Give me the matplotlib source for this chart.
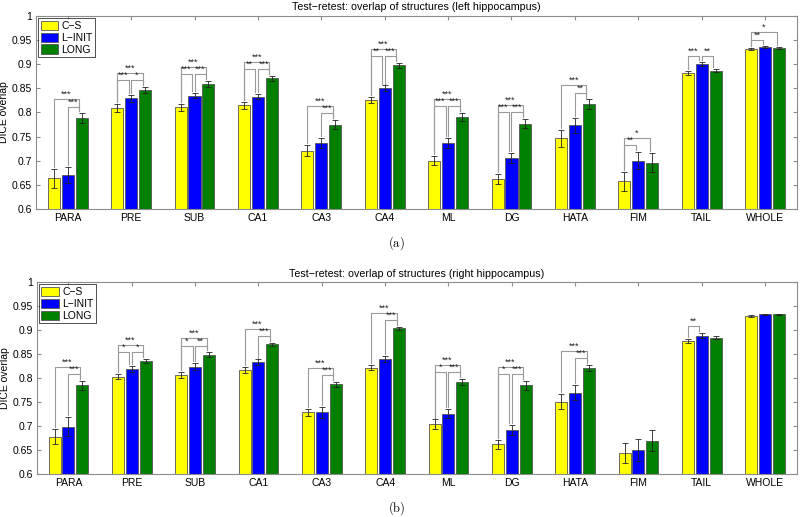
import numpy as np
import matplotlib
matplotlib.use("Agg")
import matplotlib.pyplot as plt
from matplotlib.ticker import FuncFormatter

plt.rcParams['font.family'] = ['Liberation Sans', 'DejaVu Sans']
plt.rcParams['mathtext.fontset'] = 'cm'

# Data
structures = ['PARA', 'PRE', 'SUB', 'CA1', 'CA3', 'CA4', 'ML', 'DG',
              'HATA', 'FIM', 'TAIL', 'WHOLE']
methods = ['C\u2212S', 'L\u2212INIT', 'LONG']

left_cs = [0.663, 0.809, 0.811, 0.815, 0.721, 0.826, 0.700, 0.662, 0.746, 0.657, 0.882, 0.931]
left_linit = [0.670, 0.829, 0.835, 0.833, 0.737, 0.850, 0.737, 0.706, 0.773, 0.700, 0.900, 0.935]
left_long = [0.788, 0.847, 0.859, 0.871, 0.775, 0.898, 0.791, 0.777, 0.817, 0.696, 0.887, 0.934]
left_cs_err = [0.019, 0.008, 0.007, 0.007, 0.011, 0.007, 0.010, 0.011, 0.017, 0.019, 0.004, 0.002]
left_linit_err = [0.017, 0.007, 0.006, 0.006, 0.010, 0.006, 0.010, 0.010, 0.015, 0.018, 0.004, 0.002]
left_long_err = [0.010, 0.006, 0.006, 0.005, 0.009, 0.005, 0.008, 0.010, 0.010, 0.019, 0.004, 0.002]

right_cs = [0.678, 0.803, 0.807, 0.817, 0.729, 0.822, 0.704, 0.662, 0.751, 0.644, 0.877, 0.929]
right_linit = [0.699, 0.819, 0.824, 0.833, 0.729, 0.840, 0.726, 0.692, 0.770, 0.651, 0.889, 0.933]
right_long = [0.785, 0.836, 0.849, 0.871, 0.787, 0.904, 0.792, 0.785, 0.822, 0.670, 0.884, 0.933]
right_cs_err = [0.016, 0.005, 0.006, 0.006, 0.007, 0.005, 0.010, 0.010, 0.016, 0.020, 0.004, 0.002]
right_linit_err = [0.020, 0.006, 0.007, 0.006, 0.011, 0.007, 0.010, 0.011, 0.015, 0.023, 0.005, 0.001]
right_long_err = [0.010, 0.005, 0.005, 0.003, 0.006, 0.003, 0.007, 0.009, 0.006, 0.021, 0.003, 0.001]

# significance brackets: (structure index, bar i, bar j, stars, level)
left_sig = [(0, 1, 2, '***', 0), (0, 0, 2, '***', 1),
            (1, 0, 1, '***', 0), (1, 1, 2, '*', 0), (1, 0, 2, '***', 1),
            (2, 0, 1, '***', 0), (2, 1, 2, '***', 0), (2, 0, 2, '***', 1),
            (3, 0, 1, '**', 0), (3, 1, 2, '***', 0), (3, 0, 2, '***', 1),
            (4, 1, 2, '***', 0), (4, 0, 2, '***', 1),
            (5, 0, 1, '**', 0), (5, 1, 2, '***', 0), (5, 0, 2, '***', 1),
            (6, 0, 1, '***', 0), (6, 1, 2, '***', 0), (6, 0, 2, '***', 1),
            (7, 0, 1, '***', 0), (7, 1, 2, '***', 0), (7, 0, 2, '***', 1),
            (8, 1, 2, '**', 0), (8, 0, 2, '***', 1),
            (9, 0, 1, '**', 0), (9, 0, 2, '*', 1),
            (10, 0, 1, '***', 0), (10, 1, 2, '**', 0),
            (11, 0, 1, '**', 0), (11, 0, 2, '*', 1)]
right_sig = [(0, 1, 2, '***', 0), (0, 0, 2, '***', 1),
             (1, 0, 1, '*', 0), (1, 1, 2, '*', 0), (1, 0, 2, '***', 1),
             (2, 0, 1, '*', 0), (2, 1, 2, '**', 0), (2, 0, 2, '***', 1),
             (3, 1, 2, '***', 0), (3, 0, 2, '***', 1),
             (4, 1, 2, '***', 0), (4, 0, 2, '***', 1),
             (5, 1, 2, '***', 0), (5, 0, 2, '***', 1),
             (6, 0, 1, '*', 0), (6, 1, 2, '***', 0), (6, 0, 2, '***', 1),
             (7, 0, 1, '*', 0), (7, 1, 2, '***', 0), (7, 0, 2, '***', 1),
             (8, 1, 2, '***', 0), (8, 0, 2, '***', 1),
             (10, 0, 1, '**', 0)]

colors = ['#ffff00', '#0000ff', '#007f00']
frame_gray = '#8c8c8c'


def panneau(ax, valeurs, erreurs, signif, titre):
    """Dessine un panneau de barres groupées avec barres d'erreur et étoiles."""
    x = np.arange(1, len(structures) + 1)
    decal = [-0.22, 0.0, 0.22]
    for k in range(3):
        ax.bar(x + decal[k], valeurs[k], width=0.19, bottom=0, color=colors[k],
               edgecolor='#555555', linewidth=0.6, label=methods[k], zorder=2)
        ax.errorbar(x + decal[k], valeurs[k], yerr=erreurs[k], fmt='none',
                    ecolor='#222222', elinewidth=0.6, capsize=2.5,
                    capthick=0.6, zorder=3)

    hauts = np.array(valeurs) + np.array(erreurs)
    for g, i, j, etoiles, niveau in signif:
        y = hauts[:, g].max() + 0.014 + 0.015 * niveau
        xg = x[g] + decal[i]
        xd = x[g] + decal[j] - 0.04
        ax.plot([xg, xg, xd, xd],
                [hauts[i, g] + 0.004, y, y, hauts[j, g] + 0.004],
                color='#9a9a9a', linewidth=0.8, zorder=1)
        ax.text((xg + xd) / 2, y + 0.0005, etoiles, ha='center', va='bottom',
                fontsize=6.5, color='#222222')

    ax.set_xlim(0.5, len(structures) + 0.5)
    ax.set_ylim(0.6, 1.0)
    ax.set_xticks(x)
    ax.set_xticklabels(structures, fontsize=7.5)
    ax.set_yticks(np.arange(0.6, 1.001, 0.05))
    ax.yaxis.set_major_formatter(FuncFormatter(lambda v, p: f'{v:g}'))
    ax.tick_params(axis='y', labelsize=7.5)
    ax.tick_params(direction='in', length=3, color=frame_gray, top=True,
                   right=True, pad=3)
    for s in ax.spines.values():
        s.set_color(frame_gray)
        s.set_linewidth(0.8)
    ax.set_ylabel('DICE overlap', fontsize=7.5, labelpad=2)
    ax.set_title(titre, fontsize=7.7, pad=4)
    leg = ax.legend(loc='upper left', fontsize=7.5, frameon=True, fancybox=False,
                    borderpad=0.25, labelspacing=0.15, handlelength=1.7,
                    handleheight=1.0, handletextpad=0.3, borderaxespad=0.2)
    leg.get_frame().set_edgecolor('black')
    leg.get_frame().set_linewidth(0.6)


fig = plt.figure(figsize=(8, 5.17), dpi=100)
ax1 = fig.add_axes([0.045, 0.596, 0.951, 0.373])
ax2 = fig.add_axes([0.046, 0.083, 0.950, 0.371])

panneau(ax1, [left_cs, left_linit, left_long],
        [left_cs_err, left_linit_err, left_long_err], left_sig,
        'Test\u2212retest: overlap of structures (left hippocampus)')
panneau(ax2, [right_cs, right_linit, right_long],
        [right_cs_err, right_linit_err, right_long_err], right_sig,
        'Test\u2212retest: overlap of structures (right hippocampus)')

fig.text(0.496, 1 - 243 / 517, r'$\mathrm{(a)}$', ha='center', va='center', fontsize=9)
fig.text(0.496, 1 - 508 / 517, r'$\mathrm{(b)}$', ha='center', va='center', fontsize=9)

fig.savefig('out.png', dpi=100)
